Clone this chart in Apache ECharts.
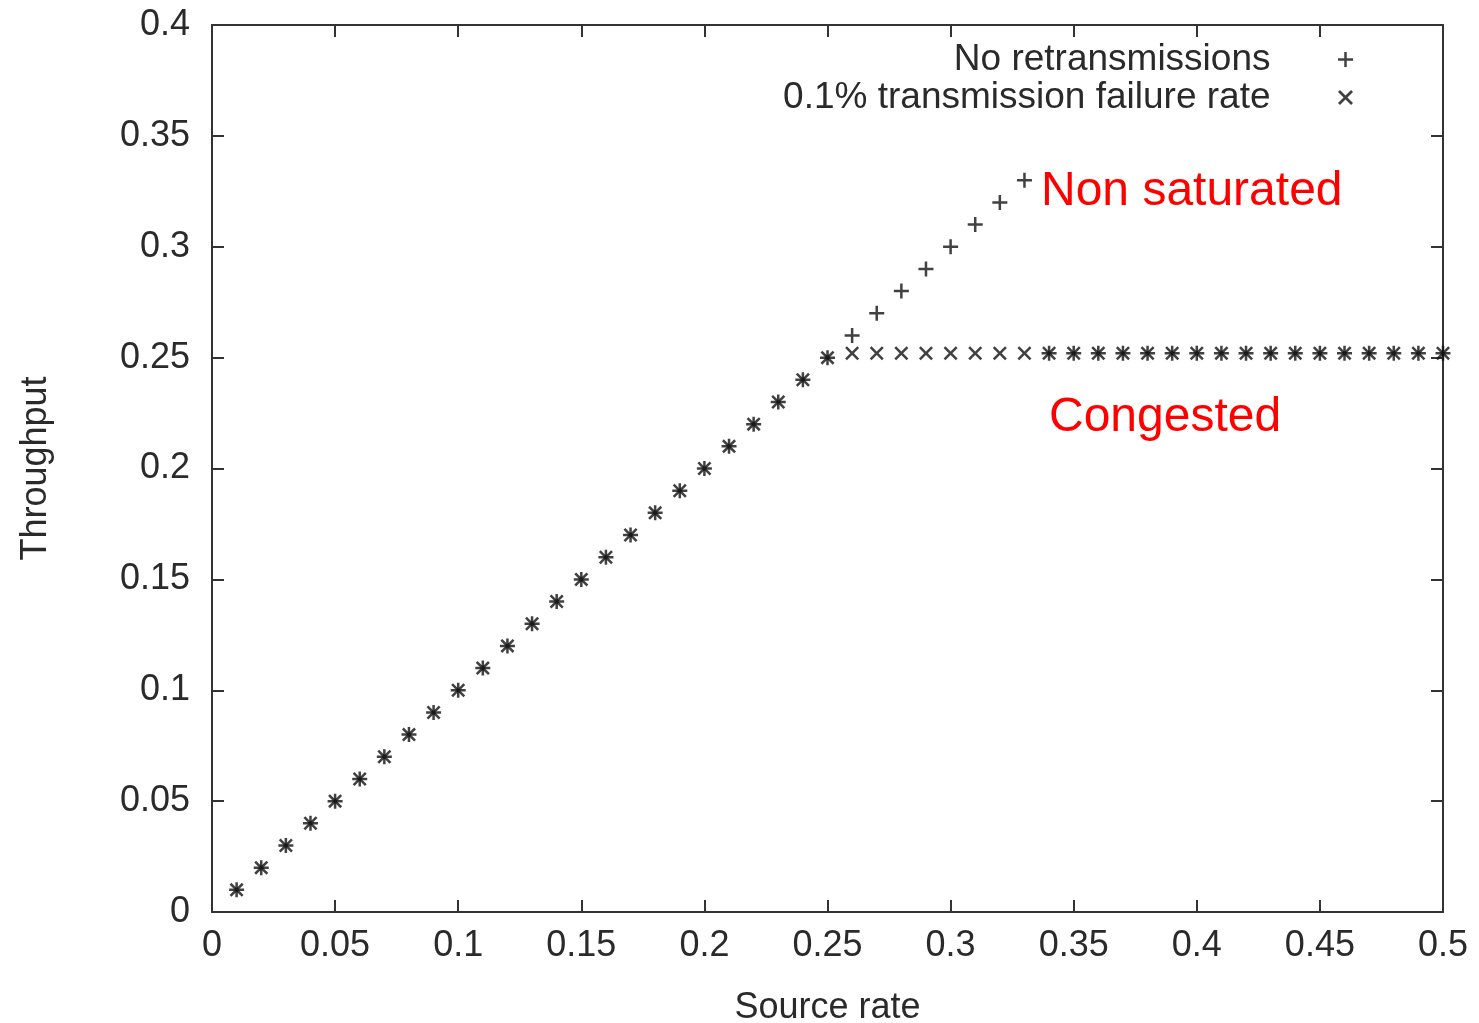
<!DOCTYPE html>
<html>
<head>
<meta charset="utf-8">
<script src="https://cdn.jsdelivr.net/npm/echarts@6/dist/echarts.min.js"></script>
<style>
  html, body { margin: 0; padding: 0; background: #fff; }
  #chart { width: 1479px; height: 1023px; }
</style>
</head>
<body>
<div id="chart"></div>
<script>
// source rate (x)
const sourceRate = [
  0.01, 0.02, 0.03, 0.04, 0.05, 0.06, 0.07, 0.08, 0.09, 0.10,
  0.11, 0.12, 0.13, 0.14, 0.15, 0.16, 0.17, 0.18, 0.19, 0.20,
  0.21, 0.22, 0.23, 0.24, 0.25, 0.26, 0.27, 0.28, 0.29, 0.30,
  0.31, 0.32, 0.33, 0.34, 0.35, 0.36, 0.37, 0.38, 0.39, 0.40,
  0.41, 0.42, 0.43, 0.44, 0.45, 0.46, 0.47, 0.48, 0.49, 0.50
];
// throughput, no retransmissions (+)
const noRetrans = [
  0.01, 0.02, 0.03, 0.04, 0.05, 0.06, 0.07, 0.08, 0.09, 0.10,
  0.11, 0.12, 0.13, 0.14, 0.15, 0.16, 0.17, 0.18, 0.19, 0.20,
  0.21, 0.22, 0.23, 0.24, 0.25, 0.26, 0.27, 0.28, 0.29, 0.30,
  0.31, 0.32, 0.33, 0.252, 0.252, 0.252, 0.252, 0.252, 0.252, 0.252,
  0.252, 0.252, 0.252, 0.252, 0.252, 0.252, 0.252, 0.252, 0.252, 0.252
];
// throughput, 0.1% failure rate (x)
const failRate = [
  0.01, 0.02, 0.03, 0.04, 0.05, 0.06, 0.07, 0.08, 0.09, 0.10,
  0.11, 0.12, 0.13, 0.14, 0.15, 0.16, 0.17, 0.18, 0.19, 0.20,
  0.21, 0.22, 0.23, 0.24, 0.25, 0.252, 0.252, 0.252, 0.252, 0.252,
  0.252, 0.252, 0.252, 0.252, 0.252, 0.252, 0.252, 0.252, 0.252, 0.252,
  0.252, 0.252, 0.252, 0.252, 0.252, 0.252, 0.252, 0.252, 0.252, 0.252
];
const seriesNames = ['No retransmissions', '0.1% transmission failure rate'];

const FONT = '"Liberation Sans", Arial, sans-serif';
const TXT = '#2a2a2a';
const PLUS = 'path://M6.25,0h2.5v15h-2.5zM0,6.25h15v2.5h-15z';
const CROSS = 'path://M0,1.8L1.8,0L7,5.2L12.2,0L14,1.8L8.8,7L14,12.2L12.2,14L7,8.8L1.8,14L0,12.2L5.2,7Z';

const pairs = (ys) => sourceRate.map((x, i) => [x, ys[i]]);

const axisLine = { show: true, onZero: false, lineStyle: { color: '#333', width: 2 } };
const tick = { show: true, inside: true, length: 12, lineStyle: { color: '#333', width: 2 } };

const chart = echarts.init(document.getElementById('chart'));
chart.setOption({
  animation: false,
  grid: { left: 212, top: 25, width: 1231, height: 887, containLabel: false, outerBoundsMode: 'none' },
  legend: {
    orient: 'vertical',
    align: 'right',
    right: 121,
    top: 36,
    itemGap: 1,
    itemWidth: 140,
    itemHeight: 15,
    data: [
      { name: seriesNames[0], icon: PLUS },
      { name: seriesNames[1], icon: CROSS }
    ],
    textStyle: { fontSize: 37, fontFamily: FONT, color: TXT }
  },
  xAxis: [
    {
      type: 'value', min: 0, max: 0.5, interval: 0.05,
      name: 'Source rate', nameLocation: 'middle', nameGap: 78,
      nameTextStyle: { fontSize: 36, fontFamily: FONT, color: TXT },
      axisLine, axisTick: tick, splitLine: { show: false },
      axisLabel: { fontSize: 36, fontFamily: FONT, color: TXT, margin: 16 }
    },
    {
      type: 'value', position: 'top', min: 0, max: 0.5, interval: 0.05,
      axisLine, axisTick: tick, splitLine: { show: false }, axisLabel: { show: false }
    }
  ],
  yAxis: [
    {
      type: 'value', min: 0, max: 0.4, interval: 0.05,
      name: 'Throughput', nameLocation: 'middle', nameGap: 158,
      nameTextStyle: { fontSize: 36, fontFamily: FONT, color: TXT },
      axisLine, axisTick: tick, splitLine: { show: false },
      axisLabel: { fontSize: 36, fontFamily: FONT, color: TXT, margin: 22 }
    },
    {
      type: 'value', position: 'right', min: 0, max: 0.4, interval: 0.05,
      axisLine, axisTick: tick, splitLine: { show: false }, axisLabel: { show: false }
    }
  ],
  series: [
    {
      name: seriesNames[0], type: 'scatter', symbol: PLUS, symbolSize: 15,
      itemStyle: { color: '#111' }, data: pairs(noRetrans)
    },
    {
      name: seriesNames[1], type: 'scatter', symbol: CROSS, symbolSize: 14,
      itemStyle: { color: '#111' }, data: pairs(failRate)
    }
  ],
  graphic: [
    {
      type: 'text', left: 1041, top: 168,
      style: { text: 'Non saturated', fontSize: 48, fontFamily: FONT, fill: '#ff0000' }
    },
    {
      type: 'text', left: 1049, top: 394,
      style: { text: 'Congested', fontSize: 48, fontFamily: FONT, fill: '#ff0000' }
    }
  ]
});
</script>
</body>
</html>
